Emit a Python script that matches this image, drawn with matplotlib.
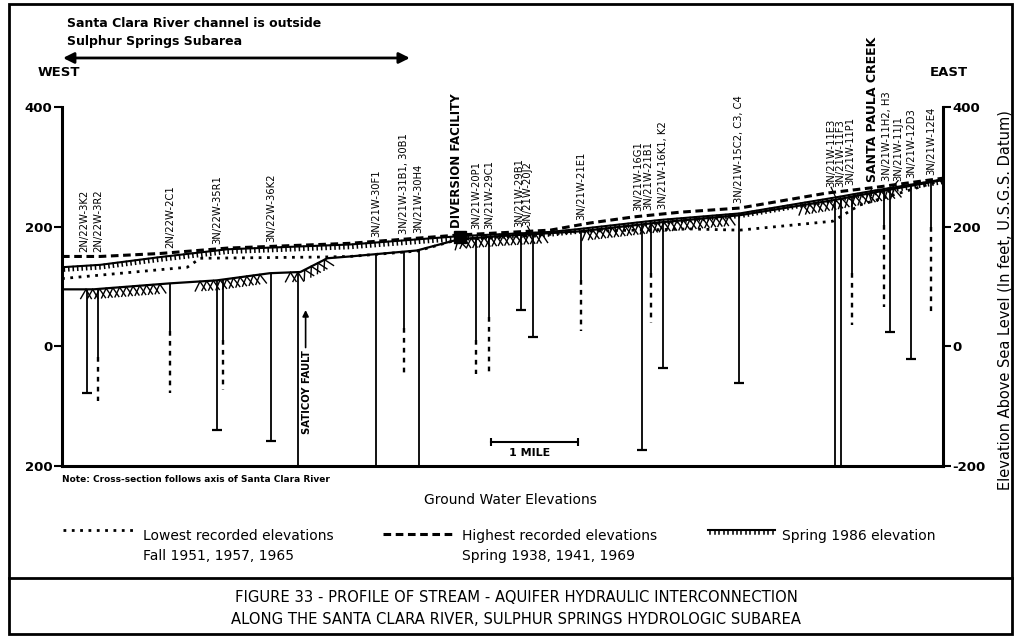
import numpy as np
import matplotlib
matplotlib.use("Agg")
import matplotlib.pyplot as plt
from matplotlib import patheffects
from matplotlib.lines import Line2D

# ── Profile data: distance along river (miles from west edge), elevation (ft) ──
highest_mi = [0.00, 0.44, 1.13, 1.90, 3.31, 4.57, 5.61, 6.07, 6.56, 7.10, 7.79, 8.79, 9.37, 10.13]
highest_ft = [150, 150, 155, 164, 172, 186, 194, 206, 216, 224, 231, 256, 266, 281]

spring86_mi = [0.00, 0.44, 1.13, 1.90, 3.31, 4.57, 5.61, 5.95, 6.87, 7.79, 8.86, 9.37, 10.13]
spring86_ft = [132, 136, 149, 162, 170, 184, 191, 196, 211, 222, 248, 261, 279]

lowest_mi = [0.00, 1.44, 1.59, 2.97, 3.31, 4.08, 4.57, 5.61, 5.95, 7.22, 7.79, 8.86, 9.17, 10.13]
lowest_ft = [113, 132, 147, 149, 150, 159, 179, 187, 192, 196, 194, 209, 236, 278]

bed_mi = [0.00, 0.36, 1.24, 1.78, 2.39, 2.74, 3.05, 3.31, 4.08, 4.57, 5.03, 5.95, 6.87, 7.79, 8.86, 9.37, 10.13]
bed_ft = [95, 95, 105, 110, 122, 124, 147, 150, 160, 179, 184, 192, 207, 219, 244, 258, 278]

# stretches of the bed drawn with hatching
hatch_spans = [(0.24, 1.16), (1.55, 2.31), (2.59, 3.05), (4.52, 5.55), (5.99, 7.70), (8.48, 9.60)]

# ── Wells ──
well_names = ["2N/22W-3K2", "2N/22W-3R2", "2N/22W-2C1", "3N/22W-35R1", "", "3N/22W-36K2",
              "3N/21W-30F1", "3N/21W-31B1, 30B1", "3N/21W-30H4", "3N/21W-20P1", "3N/21W-29C1",
              "3N/21W-29B1", "3N/21W-20J2", "3N/21W-21E1", "3N/21W-16G1", "3N/21W-21B1",
              "3N/21W-16K1, K2", "3N/21W-15C2, C3, C4", "3N/21W-11E3", "3N/21W-11F3",
              "3N/21W-11P1", "3N/21W-11H2, H3", "3N/21W-11J1", "3N/21W-12D3", "3N/21W-12E4"]
well_mi = [0.29, 0.41, 1.24, 1.78, 1.85, 2.40, 3.61, 3.93, 4.10, 4.76, 4.91, 5.28, 5.41, 5.97,
           6.67, 6.77, 6.91, 7.78, 8.89, 8.95, 9.08, 9.45, 9.52, 9.76, 9.99]
casing_ft = [-78, -19, 26, -141, 10, -158, -200, 31, -200, 10, 48, 60, 15, 110,
             -173, 122, -37, -62, -200, -200, 122, 202, 23, -22, 199]
screen_ft = [np.nan, -91, -78, np.nan, -74, np.nan, np.nan, -46, np.nan, -46, -46, np.nan, np.nan, 26,
             np.nan, 38, np.nan, np.nan, np.nan, np.nan, 35, 65, np.nan, np.nan, 56]

fault_mi = 2.71
diversion_mi = 4.57
creek_mi = 9.32
outside_span = (0.0, 4.03)
scale_bar = (4.93, 5.93)

W, H = 1020, 638
def fx(px):
    return px / W
def fy(py):
    return 1 - py / H

fig = plt.figure(figsize=(W / 100, H / 100), dpi=100)
ax = fig.add_axes([fx(62), fy(465.7), (943 - 62) / W, (465.7 - 107) / H])
ax.set_xlim(0, 10.126)
ax.set_ylim(-200, 400)

for s in ["left", "right", "bottom"]:
    ax.spines[s].set_linewidth(2.2)
ax.spines["top"].set_visible(False)
ax.set_xticks([])
yt = [400, 200, 0, -200]
ax.set_yticks(yt, ["400", "200", "0", "200"])
ax.tick_params(axis="y", length=6, width=1.5, labelsize=9.5, pad=1)
for t in ax.get_yticklabels():
    t.set_fontweight("bold")
ax2 = ax.twinx()
ax2.set_ylim(-200, 400)
ax2.set_yticks(yt, ["400", "200", "0", "-200"])
ax2.tick_params(axis="y", length=6, width=1.5, labelsize=9.5, pad=1)
for t in ax2.get_yticklabels():
    t.set_fontweight("bold")
for s in ax2.spines.values():
    s.set_visible(False)

def bed_at(x):
    return np.interp(x, bed_mi, bed_ft)

def top_at(x):
    return max(np.interp(x, highest_mi, highest_ft), np.interp(x, spring86_mi, spring86_ft),
               np.interp(x, lowest_mi, lowest_ft), bed_at(x))

# ── wells ──
nudge = {"3N/21W-29B1": -0.03, "3N/21W-20J2": -0.06, "3N/21W-16G1": -0.05,
         "3N/21W-21B1": -0.03, "3N/21W-11H2, H3": 0.03, "3N/21W-11J1": 0.09,
         "3N/21W-11E3": -0.05, "3N/21W-11F3": -0.01, "3N/21W-11P1": -0.02,
         "2N/22W-3K2": -0.03, "2N/22W-3R2": 0.01}
for name, x, c, sc in zip(well_names, well_mi, casing_ft, screen_ft):
    top = bed_at(x)
    ax.plot([x, x], [top, c], color="black", lw=1.3, zorder=2, solid_capstyle="butt")
    if not np.isnan(sc):
        ax.plot([x, x], [c, sc], color="black", lw=1.7, ls=(0, (2, 2.2)), zorder=2)
    elif c > -200:
        ax.plot([x], [c], marker="_", ms=7, mew=1.6, color="black", zorder=2)
    if name:
        lx = x + nudge.get(name, 0)
        ax.text(lx, top_at(x) + 8, name, rotation=90, ha="center", va="bottom",
                fontsize=7.2, clip_on=False)
        if abs(lx - x) > 0.05:
            ax.plot([lx, x], [top_at(x) + 8, top_at(x) - 8], color="black", lw=0.9,
                    zorder=6)

# Saticoy fault
ax.plot([fault_mi, fault_mi], [bed_at(fault_mi), -200], color="black", lw=1.3, zorder=2)
ax.text(fault_mi + 0.11, -7, "SATICOY FAULT", rotation=90, ha="center", va="top",
        fontsize=7.2, fontweight="bold")
ax.annotate("", xy=(fault_mi + 0.09, 65), xytext=(fault_mi + 0.09, -7),
            arrowprops=dict(arrowstyle="-|>", color="black", lw=1.2, mutation_scale=9))

# ── profile lines ──
ax.plot(bed_mi, bed_ft, color="black", lw=1.6, zorder=3)
hatch_fx = [patheffects.TickedStroke(angle=-60, spacing=4.5, length=1.7, linewidth=1.0),
            patheffects.TickedStroke(angle=-120, spacing=4.5, length=1.7, linewidth=1.0)]
for a, b in hatch_spans:
    xs = np.linspace(a, b, 40)
    ax.plot(xs, bed_at(xs), color="black", lw=1.0, zorder=3, path_effects=hatch_fx)
ax.plot(lowest_mi, lowest_ft, color="black", lw=2.0, ls=(0, (1, 2)), zorder=4)
ax.plot(highest_mi, highest_ft, color="black", lw=2.2, ls=(0, (2.5, 1.5)), zorder=4)
ticked = [patheffects.withTickedStroke(angle=-90, spacing=3.2, length=0.9, linewidth=1.1)]
ax.plot(spring86_mi, spring86_ft, color="black", lw=1.5, zorder=5, path_effects=ticked)

# diversion facility
ax.plot([diversion_mi], [bed_at(diversion_mi) + 3], marker="s", ms=8, color="black", zorder=6)
ax.text(diversion_mi - 0.03, top_at(diversion_mi) + 12, "DIVERSION FACILITY", rotation=90,
        ha="center", va="bottom", fontsize=8.5, fontweight="bold", clip_on=False)
# Santa Paula Creek
ax.text(creek_mi, top_at(creek_mi) + 10, "SANTA PAULA CREEK", rotation=90,
        ha="center", va="bottom", fontsize=9, fontweight="bold", clip_on=False)
ax.text(creek_mi - 0.02, top_at(creek_mi) - 12, "(", ha="center", va="center", fontsize=11)

# scale bar
ax.plot(scale_bar, [-160, -160], color="black", lw=1.5, marker="|", ms=6, mew=1.5)
ax.text(np.mean(scale_bar) - 0.05, -170, "1 MILE", ha="center", va="top", fontsize=8,
        fontweight="bold")

# channel outside subarea arrow
ax.annotate("", xy=(outside_span[1], 482), xytext=(outside_span[0] - 0.02, 482),
            annotation_clip=False,
            arrowprops=dict(arrowstyle="<|-|>", color="black", lw=2.0, mutation_scale=16))

# ── figure text ──
fig.text(fx(67), fy(17), "Santa Clara River channel is outside\nSulphur Springs Subarea",
         ha="left", va="top", fontsize=9, fontweight="bold", linespacing=1.45)
fig.text(fx(38), fy(73), "WEST", ha="left", va="center", fontsize=9.5, fontweight="bold")
fig.text(fx(930), fy(72), "EAST", ha="left", va="center", fontsize=9.5, fontweight="bold")
fig.text(fx(1005), fy(300), "Elevation Above Sea Level (In feet, U.S.G.S. Datum)",
         rotation=90, ha="center", va="center", fontsize=10.5)
fig.text(fx(62), fy(480), "Note: Cross-section follows axis of Santa Clara River",
         ha="left", va="center", fontsize=6.5, fontweight="bold")

# legend (drawn by hand to match the original layout)
fig.text(fx(510), fy(500), "Ground Water Elevations", ha="center", va="center", fontsize=10)
leg_items = [
    (63, 135, 530, 143, dict(lw=2.0, ls=(0, (1, 2))), None,
     "Lowest recorded elevations", "Fall 1951, 1957, 1965"),
    (383, 455, 534, 462, dict(lw=2.2, ls=(0, (2.5, 1.5))), None,
     "Highest recorded elevations", "Spring 1938, 1941, 1969"),
    (708, 775, 530, 782, dict(lw=1.5), ticked, "Spring 1986 elevation", ""),
]
for x0, x1, ys, xt, style, pe, l1, l2 in leg_items:
    ln = Line2D([fx(x0), fx(x1)], [fy(ys), fy(ys)], color="black",
                transform=fig.transFigure, **style)
    if pe:
        ln.set_path_effects(pe)
    fig.add_artist(ln)
    fig.text(fx(xt), fy(536), l1, ha="left", va="center", fontsize=10)
    if l2:
        fig.text(fx(xt), fy(556), l2, ha="left", va="center", fontsize=10)

# frame and caption
fig.add_artist(plt.Rectangle((fx(9), fy(634)), fx(1012) - fx(9), fy(4) - fy(634),
                             transform=fig.transFigure, fill=False, lw=2, color="black"))
fig.add_artist(Line2D([fx(9), fx(1012)], [fy(578), fy(578)], transform=fig.transFigure,
                      color="black", lw=2))
fig.text(fx(516), fy(598), "FIGURE 33 - PROFILE OF STREAM - AQUIFER HYDRAULIC INTERCONNECTION",
         ha="center", va="center", fontsize=10.6)
fig.text(fx(516), fy(620), "ALONG THE SANTA CLARA RIVER, SULPHUR SPRINGS HYDROLOGIC SUBAREA",
         ha="center", va="center", fontsize=10.6)

fig.savefig("out.png", dpi=100)
